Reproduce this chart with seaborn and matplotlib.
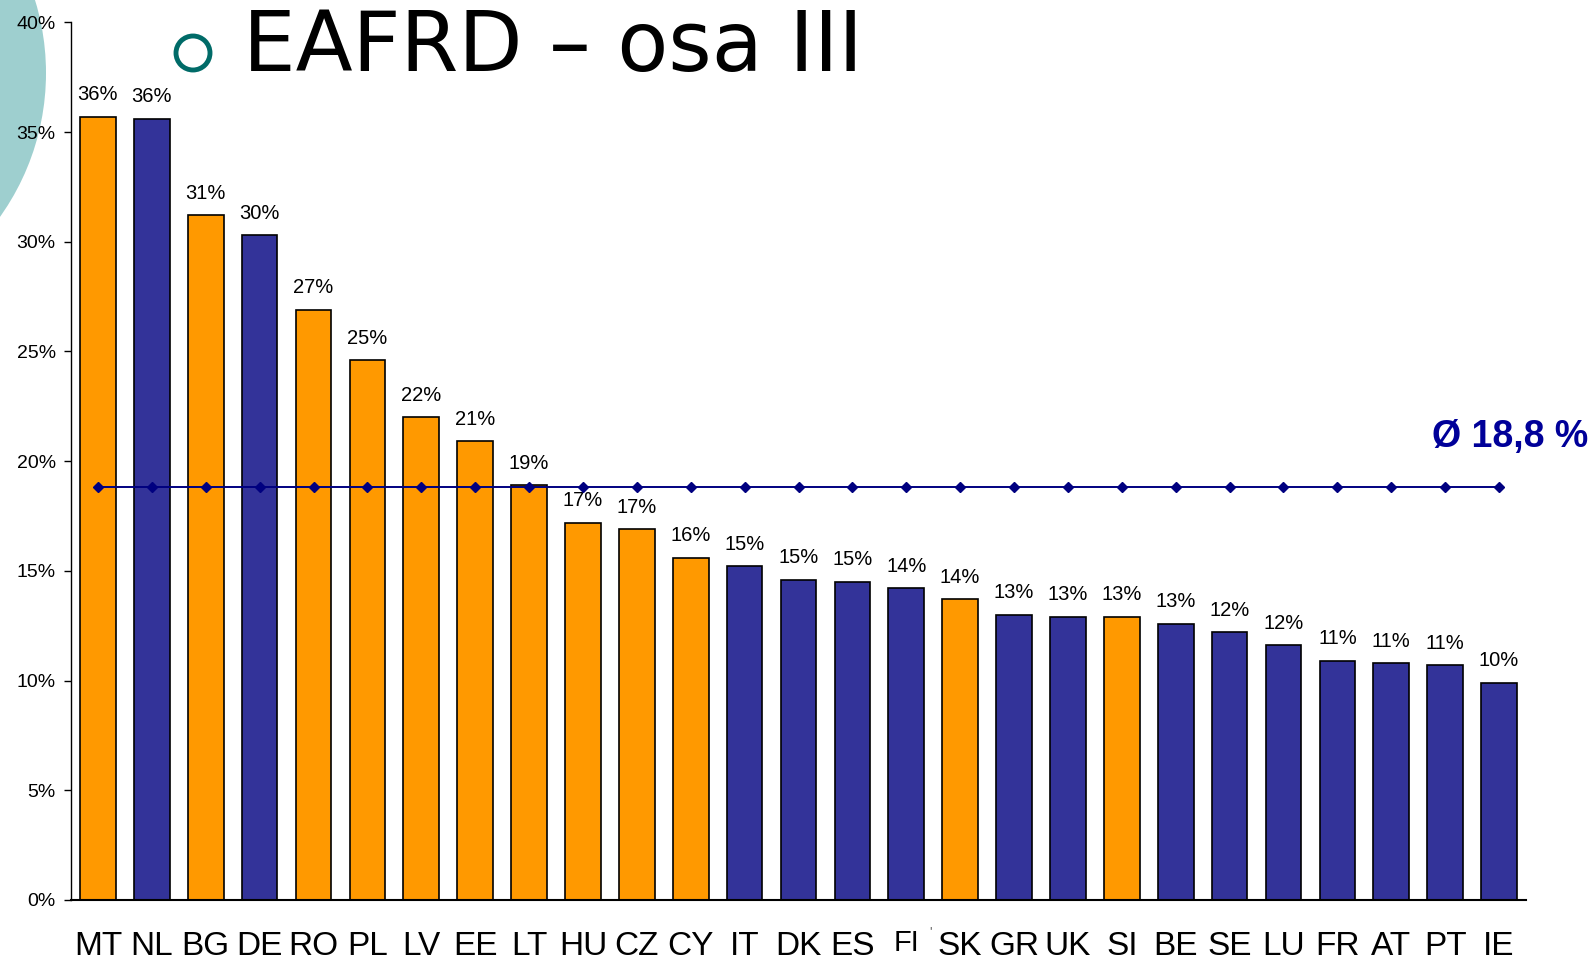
import numpy as np
import pandas as pd
import seaborn as sns
from matplotlib import pyplot as plt
from matplotlib.patches import Ellipse

# EAFRD axis III share per member state
countries = ['MT', 'NL', 'BG', 'DE', 'RO', 'PL', 'LV', 'EE', 'LT', 'HU', 'CZ', 'CY', 'IT', 'DK',
             'ES', 'FI', 'SK', 'GR', 'UK', 'SI', 'BE', 'SE', 'LU', 'FR', 'AT', 'PT', 'IE']
shares = [35.7, 35.6, 31.2, 30.3, 26.9, 24.6, 22.0, 20.9, 18.9, 17.2, 16.9, 15.6, 15.2, 14.6,
          14.5, 14.2, 13.7, 13.0, 12.9, 12.9, 12.6, 12.2, 11.6, 10.9, 10.8, 10.7, 9.9]
share_labels = ['36%', '36%', '31%', '30%', '27%', '25%', '22%', '21%', '19%', '17%', '17%', '16%',
                '15%', '15%', '15%', '14%', '14%', '13%', '13%', '13%', '13%', '12%', '12%', '11%',
                '11%', '11%', '10%']
groups = ['new', 'old', 'new', 'old', 'new', 'new', 'new', 'new', 'new', 'new', 'new', 'new', 'old',
          'old', 'old', 'old', 'new', 'old', 'old', 'new', 'old', 'old', 'old', 'old', 'old', 'old', 'old']
average = 18.8
yticks = [0, 5, 10, 15, 20, 25, 30, 35, 40]

df = pd.DataFrame({'country': countries, 'share': shares, 'group': groups})
palette = {'new': '#FF9900', 'old': '#333399'}

sns.set_style('white')
plt.rcParams['font.family'] = ['Liberation Sans', 'DejaVu Sans']
plt.rcParams['text.color'] = 'black'
plt.rcParams['xtick.color'] = 'black'
plt.rcParams['ytick.color'] = 'black'

fig = plt.figure(figsize=(15.9, 9.6), dpi=100)
ax = fig.add_axes([71 / 1590, 1 - 900 / 960, (1526 - 71) / 1590, (900 - 22.3) / 960])
ax.patch.set_alpha(0)

# decorative slide shapes
fig.add_artist(Ellipse((-202 / 1590, 1 - 73 / 960), 2 * 248 / 1590, 2 * 248 / 960,
                       transform=fig.transFigure, color='#9ECFCF', zorder=-5, lw=0))
fig.add_artist(Ellipse((193 / 1590, 1 - 53 / 960), 2 * 17 / 1590, 2 * 17 / 960,
                       transform=fig.transFigure, facecolor='none', edgecolor='#006B68', lw=3.5))
fig.text(243 / 1590, 1 - 71 / 960, 'EAFRD \u2013 osa III', fontsize=60, family='DejaVu Sans',
         ha='left', va='baseline', color='black')

sns.barplot(data=df, x='country', y='share', hue='group', palette=palette, dodge=False,
            width=0.66, saturation=1, edgecolor='black', linewidth=1.2, legend=False, ax=ax)
ax.bar_label(ax.containers[0], labels=[l for l, g in zip(share_labels, groups) if g == 'new'],
             padding=9, fontsize=14.5, color='black')
ax.bar_label(ax.containers[1], labels=[l for l, g in zip(share_labels, groups) if g == 'old'],
             padding=9, fontsize=14.5, color='black')

x = np.arange(len(countries))
ax.plot(x, [average] * len(countries), color='#000080', lw=1.4, marker='D', markersize=5.5, zorder=5)
ax.text(26.2, 21.1, 'Ø 18,8 %', color='#000099', fontsize=27, fontweight='bold',
        ha='center', va='center', clip_on=False)

ax.set_xlim(-0.5, len(countries) - 0.5)
ax.set_ylim(0, 40)
ax.set_yticks(yticks)
ax.set_yticklabels([f'{t}%' for t in yticks], fontsize=14)
ax.set_xlabel('')
ax.set_ylabel('')

ax.set_xticks(np.arange(-0.5, len(countries), 1), minor=True)
ax.tick_params(axis='x', which='minor', direction='inout', length=14, width=1, color='#444444')
ax.tick_params(axis='x', which='major', length=0, pad=22, labelsize=24)
ax.tick_params(axis='y', which='major', direction='out', length=5, width=1, color='black', pad=6,
               left=True)

for lab in ax.get_xticklabels():
    lab.set_family(['Liberation Sans Narrow', 'Liberation Sans'])
    if lab.get_text() == 'FI':
        lab.set_visible(False)
# FI sits a little lower than the other country labels
fi = countries.index('FI')
ax.text(fi, -0.033, 'FI', transform=ax.get_xaxis_transform(), fontsize=21,
        family=['Liberation Sans Narrow', 'Liberation Sans'], ha='center', va='top', clip_on=False)
ax.text(fi + 0.45, -0.03, "'", transform=ax.get_xaxis_transform(), fontsize=9, color='#555555',
        ha='center', va='top', clip_on=False)

sns.despine(ax=ax, top=True, right=True)
ax.spines['left'].set_color('black')
ax.spines['left'].set_linewidth(1.0)
ax.spines['bottom'].set_color('black')
ax.spines['bottom'].set_linewidth(1.5)

fig.savefig('out.png', dpi=100)
